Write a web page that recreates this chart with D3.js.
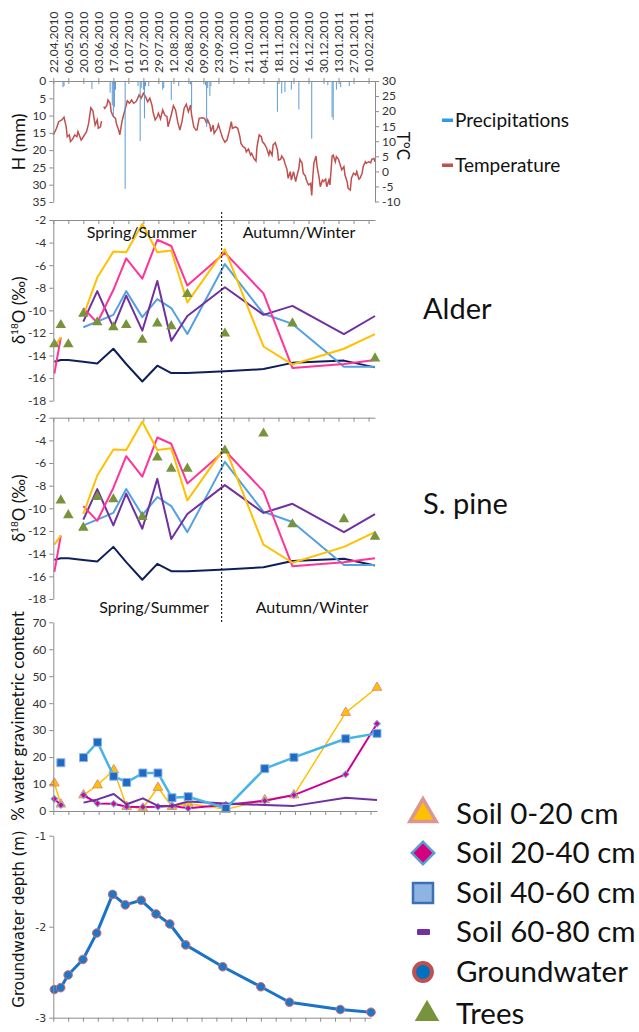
<!DOCTYPE html>
<html>
<head>
<meta charset="utf-8">
<script src="https://cdn.jsdelivr.net/npm/d3@7"></script>
<style>
  body { margin: 0; background: #fff; }
  svg text { font-family: Lato, "Open Sans", sans-serif; }
</style>
</head>
<body>
<script>
// 1. DATA
const dateLabels = ["22.04.2010","06.05.2010","20.05.2010","03.06.2010","17.06.2010","01.07.2010","15.07.2010",
  "29.07.2010","12.08.2010","26.08.2010","09.09.2010","23.09.2010","07.10.2010","21.10.2010","04.11.2010",
  "18.11.2010","02.12.2010","16.12.2010","30.12.2010","13.01.2011","27.01.2011","10.02.2011"];

// sampling campaigns (soil, trees, groundwater)
const sampleDates = ["23.04.2010","29.04.2010","06.05.2010","20.05.2010","02.06.2010","17.06.2010","29.06.2010",
  "14.07.2010","28.07.2010","10.08.2010","25.08.2010","29.09.2010","04.11.2010","01.12.2010","18.01.2011","16.02.2011"];

// daily precipitation (date, mm)
const precipitation = [["01.05.2010",1.8],["02.05.2010",1.5],["28.05.2010",2.3],["14.06.2010",3.4],["16.06.2010",7],
  ["17.06.2010",10],["18.06.2010",7.5],["19.06.2010",2.5],["28.06.2010",31.2],["10.07.2010",1.4],["12.07.2010",17.4],
  ["13.07.2010",2],["15.07.2010",2.5],["16.07.2010",10.8],["17.07.2010",1.5],["20.07.2010",1.5],["02.08.2010",2.5],
  ["03.08.2010",2],["10.08.2010",5.5],["17.08.2010",1.5],["28.08.2010",1],["29.08.2010",7.9],["11.09.2010",1.2],
  ["12.09.2010",13.3],["13.09.2010",2],["15.09.2010",4.3],["16.09.2010",1.5],["17.11.2010",8.9],["21.11.2010",3.6],
  ["24.11.2010",3.2],["30.11.2010",2.5],["07.12.2010",8.2],["19.12.2010",16.7],["03.01.2011",1.2],["07.01.2011",10.4],
  ["08.01.2011",11.2],["11.01.2011",2.5],["15.01.2011",1.8],["23.01.2011",1.5]];

// air temperature (days after 22.04.2010, °C), null = missing day
const temperature = [[0,12.1],[3,14.3],[5,16.5],[8,17.1],[10,18.0],[12,14.8],[13,11.5],[15,12.1],[16,9.9],[18,10.7],
  [20,12.1],[22,11.5],[23,13.2],[26,10.4],[28,11.5],[31,13.2],[33,16.0],[34,18.7],[35,21.1],[37,20.0],[38,17.6],
  [39,15.4],[41,17.1],[42,14.3],[44,14.8],[45,16.7],[46,null],[47,21.5],[48,20.9],[50,22.0],[51,23.7],[53,22.6],
  [54,19.8],[56,18.2],[58,17.6],[59,15.6],[61,13.7],[62,12.1],[63,14.3],[64,16.5],[66,19.3],[68,22.0],[69,23.4],
  [71,22.6],[73,23.7],[75,22.6],[77,23.1],[78,23.7],[80,25.4],[82,24.3],[84,25.9],[86,24.8],[88,23.1],[90,24.3],
  [92,22.0],[93,19.8],[95,17.1],[97,18.2],[98,19.3],[100,17.4],[102,20.4],[104,18.7],[106,18.2],[107,14.8],
  [110,18.7],[112,21.8],[114,20.4],[116,16.5],[118,13.7],[120,16.5],[122,20.9],[124,22.3],[126,19.8],[128,22.0],
  [129,18.7],[131,14.8],[133,13.7],[134,13.7],[136,17.6],[139,17.8],[141,17.6],[143,16.0],[144,17.1],[146,15.4],
  [147,13.2],[149,15.4],[150,12.6],[153,14.3],[154,15.6],[156,13.2],[158,11.0],[160,9.7],[162,10.4],[164,13.2],
  [166,16.5],[167,14.3],[170,14.8],[172,14.3],[174,11.5],[175,9.3],[177,8.2],[179,7.7],[180,6.5],[182,7.4],
  [184,5.4],[185,6.0],[187,4.3],[189,3.4],[190,8.2],[192,12.1],[194,11.5],[195,9.9],[197,9.0],[199,7.7],[201,5.4],
  [202,6.8],[204,5.4],[205,8.8],[207,9.5],[209,7.1],[210,3.8],[212,4.0],[213,5.1],[215,4.0],[216,2.7],[218,0.5],
  [219,-2.3],[221,-0.1],[222,-2.9],[224,-0.1],[226,-3.4],[227,-1.8],[229,1.0],[230,4.0],[232,2.7],[233,-0.6],
  [235,-1.5],[236,-2.9],[238,-4.5],[240,-4.0],[241,-8.0],[242,-1.8],[243,2.7],[245,5.1],[246,1.6],[248,-2.3],
  [249,-5.1],[251,-2.9],[252,-3.4],[254,-2.6],[255,-5.1],[257,-2.9],[258,-4.5],[260,5.1],[261,5.4],[263,3.2],
  [264,4.9],[266,4.0],[268,1.6],[269,0.5],[271,1.6],[272,-1.2],[274,-3.4],[275,-5.6],[277,-6.2],[278,-2.3],
  [280,-0.6],[282,-1.2],[283,-0.1],[285,-2.6],[286,-2.3],[288,-0.6],[289,1.6],[291,3.2],[292,2.7],[294,3.2],
  [296,2.9],[297,4.0],[299,4.3],[300,3.2]];

// δ18O (‰) per sampling date
const iso0020 = [-13.2,-12.4,null,-10.5,-7.1,-4.8,-4.85,-2.35,-4.85,-4.7,-9.3,-4.6,-13.2,-14.8,-13.4,-12.1];
const iso2040 = [-15.6,-12.4,null,-9.8,-11.1,-8.2,-5.4,-7.2,-3.75,-4.3,-7.8,-4.9,-8.5,-15.1,-14.75,-14.4];
const iso4060 = [null,null,null,-11.5,-11.0,-10.4,-8.3,-10.6,-9.0,-9.8,-12.1,-5.9,-10.3,-11.2,-15.0,-15.0];
const iso6080 = [null,null,null,-11.0,-8.3,-11.5,-8.7,-11.8,-7.4,-12.7,-10.5,-7.95,-10.4,-9.6,-12.1,-10.5];
const isoGroundwater = [-14.55,-14.4,-14.4,-14.55,-14.7,-13.4,-14.75,-16.3,-14.9,-15.55,-15.55,-15.4,-15.2,-14.65,-14.45,-15.05];
const isoAlder = [-13.0,-11.3,-13.0,-10.3,-11.05,-11.5,-11.3,-12.6,-11.15,-11.4,-8.55,-12.05,null,-11.15,null,-14.25];
const isoPine = [null,-9.3,-10.6,-11.7,-9.0,-9.2,null,-10.75,-5.5,-6.5,-6.5,-4.9,-3.4,-11.4,-10.95,-12.5];

// % water gravimetric content
const water0020 = [10.3,2.5,null,5.9,9.6,15.2,1.6,1.0,8.7,1.6,2.8,0.6,4.1,5.9,36.5,45.8];
const water2040 = [4.5,2.2,null,5.9,2.8,2.7,1.6,1.5,1.6,1.9,1.0,2.3,3.8,5.9,13.6,32.4];
const water4060 = [null,17.9,null,19.8,25.5,12.9,10.6,14.1,14.1,4.9,5.3,1.0,15.7,19.9,26.8,28.8];
const water6080 = [null,null,null,3.1,4.3,6.3,2.5,4.7,1.9,1.9,3.5,2.8,2.2,1.9,4.9,4.1];

// groundwater depth (m)
const gwDepth = [-2.69,-2.67,-2.53,-2.36,-2.07,-1.645,-1.76,-1.71,-1.86,-1.97,-2.2,-2.44,-2.66,-2.83,-2.91,-2.94];

const seasonSplit = "26.09.2010";

// 2. SET UP SVG
const WIDTH = 639, HEIGHT = 1032;
const axisColor = "#8c8c8c", textColor = "#333";
const C = { yellow: "#FFC000", pink: "#FF3399", blue: "#55A0E0", purple: "#7030A0", navy: "#0F1F5C",
            green: "#77933C", temp: "#C0504D", rain: "#5B9BD5" };

const svg = d3.select("body").append("svg").attr("width", WIDTH).attr("height", HEIGHT);

const parse = d3.timeParse("%d.%m.%Y");
const startDate = parse("22.04.2010"), endDate = parse("16.02.2011");
const tickDates = dateLabels.map(parse);
const samples = sampleDates.map(parse);

const xScale = right => d3.scaleTime().domain([startDate, endDate]).range([53.3, right]);

function xAxis(x, yPos, len) {
  const g = svg.append("g").attr("transform", `translate(0,${yPos})`)
    .call(d3.axisBottom(x).tickValues(tickDates).tickFormat("").tickSizeInner(len).tickSizeOuter(0));
  g.select(".domain").attr("stroke", axisColor);
  g.selectAll(".tick line").attr("stroke", axisColor);
  return g;
}

function yAxis(axis, xPos, values, font, size) {
  const g = svg.append("g").attr("transform", `translate(${xPos},0)`)
    .call(axis.tickValues(values).tickSizeInner(4).tickSizeOuter(0).tickPadding(3).tickFormat(d => String(d)));
  g.select(".domain").attr("stroke", axisColor);
  g.selectAll(".tick line").attr("stroke", axisColor);
  g.selectAll("text").attr("fill", textColor).attr("font-size", size || 12)
    .style("font-family", font || "Lato, sans-serif");
  return g;
}

function rotLabel(x, y, angle, size) {
  return svg.append("text")
    .attr("transform", `translate(${x},${y}) rotate(${angle})`)
    .attr("text-anchor", "middle").attr("font-size", size).attr("fill", "#111");
}

// 3. PRECIPITATION / TEMPERATURE PANEL
const xTop = xScale(375);
const yRain = d3.scaleLinear().domain([0, 35]).range([81, 202]);
const yTemp = d3.scaleLinear().domain([-10, 30]).range([201.5, 81]);

svg.append("path")
  .datum(temperature)
  .attr("fill", "none").attr("stroke", C.temp).attr("stroke-width", 1.5)
  .attr("d", d3.line().defined(d => d[1] != null)
    .x(d => xTop(d3.timeDay.offset(startDate, d[0]))).y(d => yTemp(d[1])));

svg.selectAll(".rain").data(precipitation).join("line")
  .attr("class", "rain")
  .attr("x1", d => xTop(parse(d[0]))).attr("x2", d => xTop(parse(d[0])))
  .attr("y1", yRain(0)).attr("y2", d => yRain(d[1]))
  .attr("stroke", C.rain).attr("stroke-width", 1);

const topAx = xAxis(xTop, 81, 3);
topAx.selectAll(".tick line").attr("y1", -3);

yAxis(d3.axisLeft(yRain), 53.3, d3.range(0, 36, 5));
yAxis(d3.axisRight(yTemp), 375, d3.range(-10, 31, 5));

// date labels read bottom-to-top, ending above the axis
svg.selectAll(".dlab").data(dateLabels).join("text")
  .attr("class", "dlab")
  .attr("transform", d => `translate(${xTop(parse(d))},73) rotate(-90)`)
  .attr("dy", "0.35em").attr("text-anchor", "start")
  .attr("font-size", 12).attr("fill", textColor)
  .text(d => d);

rotLabel(25, 142, -90, 18).text("H (mm)");
rotLabel(397, 146, 90, 17).text("T°C");

// little legend on the right
[["Precipitations", "#2E9BE6", 120], ["Temperature", C.temp, 165]].forEach(([name, col, y]) => {
  svg.append("rect").attr("x", 442).attr("y", y - 1.5).attr("width", 11).attr("height", 3.5).attr("fill", col);
  svg.append("text").attr("x", 455).attr("y", y).attr("dy", "0.35em")
    .attr("font-size", 19).attr("fill", "#111").text(name);
});

// 4. ISOTOPE PANELS (Alder + S. pine)
const xIso = xScale(375);
const soilIso = [[isoGroundwater, C.navy], [iso4060, C.blue], [iso6080, C.purple], [iso2040, C.pink], [iso0020, C.yellow]];

function isoPanel(top, bottom, trees, name, nameY, seasonY, springX, autumnX) {
  const y = d3.scaleLinear().domain([-18, -2]).range([bottom, top]);

  soilIso.forEach(([vals, col]) => {
    svg.append("path").datum(vals)
      .attr("fill", "none").attr("stroke", col).attr("stroke-width", 2)
      .attr("stroke-linejoin", "round")
      .attr("d", d3.line().defined(v => v != null).x((v, i) => xIso(samples[i])).y(v => y(v)));
  });

  svg.selectAll(null).data(trees.map((v, i) => [samples[i], v]).filter(d => d[1] != null)).join("path")
    .attr("transform", d => `translate(${xIso(d[0])},${y(d[1])})`)
    .attr("d", d3.symbol(d3.symbolTriangle, 48))
    .attr("fill", C.green);

  xAxis(xIso, top, 4);
  yAxis(d3.axisLeft(y), 53.3, d3.range(-18, -1, 2));

  const lab = rotLabel(25, (top + bottom) / 2, -90, 17);
  lab.append("tspan").text("δ");
  lab.append("tspan").attr("font-size", 10).attr("dy", -7).text("18");
  lab.append("tspan").attr("dy", 7).text("O (‰)");

  svg.append("text").attr("x", springX).attr("y", seasonY).attr("dy", "0.35em").attr("text-anchor", "middle")
    .attr("font-size", 16).attr("fill", "#111").text("Spring/Summer");
  svg.append("text").attr("x", autumnX).attr("y", seasonY).attr("dy", "0.35em").attr("text-anchor", "middle")
    .attr("font-size", 16).attr("fill", "#111").text("Autumn/Winter");

  svg.append("text").attr("x", 423).attr("y", nameY).attr("dy", "0.35em")
    .attr("font-size", 29).attr("fill", "#111").text(name);
}

isoPanel(220, 400.7, isoAlder, "Alder", 309, 232, 141.7, 299);
isoPanel(417.7, 599, isoPine, "S. pine", 504, 607, 154, 312);

// season separator
const xSplit = xIso(parse(seasonSplit));
svg.append("line").attr("x1", xSplit).attr("x2", xSplit).attr("y1", 212).attr("y2", 622)
  .attr("stroke", "#000").attr("stroke-width", 1).attr("stroke-dasharray", "2,2");

// 5. WATER CONTENT PANEL
const xWat = xScale(377);
const yWat = d3.scaleLinear().domain([0, 70]).range([811, 622.3]);

function waterSeries(vals, col, width, marker) {
  svg.append("path").datum(vals)
    .attr("fill", "none").attr("stroke", col).attr("stroke-width", width).attr("stroke-linejoin", "round")
    .attr("d", d3.line().defined(v => v != null).x((v, i) => xWat(samples[i])).y(v => yWat(v)));
  if (!marker) return;
  svg.selectAll(null).data(vals.map((v, i) => [samples[i], v]).filter(d => d[1] != null)).join("path")
    .attr("transform", d => `translate(${xWat(d[0])},${yWat(d[1])}) rotate(${marker.rot || 0})`)
    .attr("d", d3.symbol(marker.type, marker.size))
    .attr("fill", marker.fill).attr("stroke", marker.stroke).attr("stroke-width", 1);
}

waterSeries(water0020, C.yellow, 1.5, { type: d3.symbolTriangle, size: 40, fill: C.yellow, stroke: "#E0917A" });
waterSeries(water2040, "#CC0099", 2, { type: d3.symbolSquare, size: 22, rot: 45, fill: "#E0008A", stroke: "#6FA8DC" });
waterSeries(water6080, C.purple, 2);
waterSeries(water4060, "#45B4E6", 2.5, { type: d3.symbolSquare, size: 64, fill: "#1F6BC4", stroke: "#8EB4E3" });

xAxis(xWat, 811, 4);
yAxis(d3.axisLeft(yWat), 53.3, d3.range(0, 71, 10));
rotLabel(24, 716, -90, 17).text("% water gravimetric content");

// 6. GROUNDWATER DEPTH PANEL
const xGw = xScale(371);
const yGw = d3.scaleLinear().domain([-3, -1]).range([1017.7, 835.7]);

svg.append("path").datum(gwDepth)
  .attr("fill", "none").attr("stroke", "#1A73C9").attr("stroke-width", 3).attr("stroke-linejoin", "round")
  .attr("d", d3.line().x((v, i) => xGw(samples[i])).y(v => yGw(v)));
svg.selectAll(".gw").data(gwDepth).join("circle")
  .attr("class", "gw")
  .attr("cx", (v, i) => xGw(samples[i])).attr("cy", v => yGw(v)).attr("r", 4.3)
  .attr("fill", "#1F77C8").attr("stroke", "#E06A6A").attr("stroke-width", 1);

xAxis(xGw, 1017.7, 4);
yAxis(d3.axisLeft(yGw), 53.3, [-3, -2, -1], "'DejaVu Sans', sans-serif", 11);
rotLabel(24, 919, -90, 15).style("font-family", "'DejaVu Sans', sans-serif").text("Groundwater depth (m)");

// 7. MAIN LEGEND
const legendItems = [
  { name: "Soil 0-20 cm", y: 814, type: d3.symbolTriangle, size: 300, fill: C.yellow, stroke: "#D99694", sw: 3.5 },
  { name: "Soil 20-40 cm", y: 853, type: d3.symbolSquare, size: 250, rot: 45, fill: "#D6007E", stroke: "#5B9BD5", sw: 2.5 },
  { name: "Soil 40-60 cm", y: 893, type: d3.symbolSquare, size: 400, fill: "#8DB4E2", stroke: "#3D6FB6", sw: 2.5 },
  { name: "Soil 60-80 cm", y: 932, rect: true, fill: C.purple },
  { name: "Groundwater", y: 972, type: d3.symbolCircle, size: 250, fill: "#0070C0", stroke: "#C0504D", sw: 4 },
  { name: "Trees", y: 1014, type: d3.symbolTriangle, size: 260, fill: C.green, stroke: "none", sw: 0 }
];

legendItems.forEach(d => {
  if (d.rect) {
    svg.append("rect").attr("x", 417).attr("y", d.y - 3).attr("width", 13).attr("height", 6).attr("rx", 1).attr("fill", d.fill);
  } else {
    svg.append("path")
      .attr("transform", `translate(${d.name === "Trees" ? 427 : 423},${d.y}) rotate(${d.rot || 0})`)
      .attr("d", d3.symbol(d.type, d.size))
      .attr("fill", d.fill).attr("stroke", d.stroke).attr("stroke-width", d.sw);
  }
  svg.append("text").attr("x", 456).attr("y", d.y).attr("dy", "0.35em")
    .attr("font-size", 29.5).attr("fill", "#111").text(d.name);
});
</script>
</body>
</html>
